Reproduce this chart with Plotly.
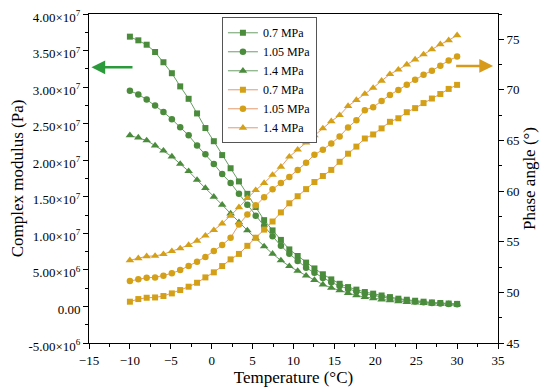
import plotly.graph_objects as go

temperature = [-10.0, -8.97, -7.95, -6.92, -5.90, -4.87, -3.85, -2.82, -1.79, -0.77,
               0.26, 1.28, 2.31, 3.33, 4.36, 5.38, 6.41, 7.44, 8.46, 9.49,
               10.51, 11.54, 12.56, 13.59, 14.62, 15.64, 16.67, 17.69, 18.72, 19.74,
               20.77, 21.79, 22.82, 23.85, 24.87, 25.90, 26.92, 27.95, 28.97, 30.0]

# complex modulus, in units of 1e6 Pa
modulus_07 = [36.9, 36.4, 35.8, 34.8, 33.4, 31.9, 30.1, 28.4, 26.4, 24.4,
              22.6, 20.7, 18.9, 17.1, 15.4, 13.6, 11.8, 10.4, 9.1, 7.8,
              6.9, 6.0, 5.2, 4.4, 3.7, 3.1, 2.65, 2.3, 1.97, 1.75,
              1.5, 1.28, 1.06, 0.92, 0.78, 0.65, 0.55, 0.47, 0.40, 0.35]
modulus_105 = [29.5, 29.0, 28.3, 27.5, 26.6, 25.6, 24.5, 23.4, 22.0, 20.8,
               19.5, 18.1, 16.9, 15.4, 13.9, 12.4, 11.0, 9.6, 8.3, 7.2,
               6.2, 5.3, 4.6, 3.9, 3.3, 2.8, 2.4, 2.05, 1.75, 1.5,
               1.3, 1.1, 0.95, 0.8, 0.68, 0.57, 0.48, 0.41, 0.35, 0.3]
modulus_14 = [23.4, 23.1, 22.7, 22.0, 21.3, 20.5, 19.5, 18.5, 17.3, 16.2,
              15.0, 13.9, 12.7, 11.5, 10.4, 9.3, 8.2, 7.2, 6.3, 5.5,
              4.85, 4.2, 3.6, 3.0, 2.55, 2.2, 1.83, 1.5, 1.28, 1.1,
              0.95, 0.82, 0.7, 0.6, 0.52, 0.45, 0.4, 0.35, 0.31, 0.28]

phase_07 = [49.08, 49.34, 49.47, 49.5, 49.64, 49.9, 50.23, 50.56, 50.95, 51.48,
            51.98, 52.6, 53.26, 53.8, 54.6, 55.4, 56.2, 57.0, 57.9, 58.8,
            59.5, 60.2, 60.9, 61.5, 62.1, 62.9, 63.7, 64.4, 65.2, 65.6,
            66.2, 66.85, 67.2, 67.8, 68.2, 68.7, 69.15, 69.6, 70.1, 70.5]
phase_105 = [51.12, 51.29, 51.45, 51.48, 51.65, 51.88, 52.2, 52.6, 53.03, 53.5,
             54.08, 54.67, 55.4, 56.7, 57.7, 58.6, 59.4, 60.2, 60.8, 61.4,
             62.1, 62.8, 63.6, 64.1, 64.7, 65.4, 66.3, 67.0, 68.0, 68.3,
             68.9, 69.5, 70.0, 70.5, 71.0, 71.5, 71.9, 72.4, 72.9, 73.3]
phase_14 = [53.17, 53.37, 53.57, 53.6, 53.77, 54.07, 54.34, 54.67, 55.1, 55.6,
            56.15, 56.8, 57.57, 58.4, 59.3, 60.1, 60.8, 61.6, 62.4, 63.4,
            64.1, 64.8, 65.5, 66.2, 66.9, 67.5, 68.4, 69.0, 69.6, 70.2,
            70.9, 71.55, 72.0, 72.5, 73.0, 73.5, 74.0, 74.5, 74.9, 75.4]

labels = ["0.7 MPa", "1.05 MPa", "1.4 MPa"]
symbols = ["square", "circle", "triangle-up"]
sizes = [6, 6.5, 7.5]

left_tickvals = [-5e6, 0, 5e6, 1e7, 1.5e7, 2e7, 2.5e7, 3e7, 3.5e7, 4e7]
left_ticktext = ["-5.00×10<sup>6</sup>", "0.00", "5.00×10<sup>6</sup>",
                 "1.00×10<sup>7</sup>", "1.50×10<sup>7</sup>", "2.00×10<sup>7</sup>",
                 "2.50×10<sup>7</sup>", "3.00×10<sup>7</sup>", "3.50×10<sup>7</sup>",
                 "4.00×10<sup>7</sup>"]

GREEN_M = "#4a8c3c"
GREEN_L = "#6a9e66"
ORANGE_M = "#d4a015"
ORANGE_L = "#e39a6c"
FONT = "Liberation Serif"

fig = go.Figure()
for lab, sym, sz, vals in zip(labels, symbols, sizes, [modulus_07, modulus_105, modulus_14]):
    fig.add_trace(go.Scatter(
        x=temperature, y=[v * 1e6 for v in vals], name=lab, mode="lines+markers",
        line=dict(color=GREEN_L, width=1),
        marker=dict(symbol=sym, size=sz, color=GREEN_M),
        yaxis="y"))
for lab, sym, sz, vals in zip(labels, symbols, sizes, [phase_07, phase_105, phase_14]):
    fig.add_trace(go.Scatter(
        x=temperature, y=vals, name=lab, mode="lines+markers",
        line=dict(color=ORANGE_L, width=1),
        marker=dict(symbol=sym, size=sz, color=ORANGE_M),
        yaxis="y2"))

fig.add_annotation(x=-14.7, y=3.27e7, ax=-9.5, ay=3.27e7, xref="x", yref="y",
                   axref="x", ayref="y", showarrow=True, arrowhead=2,
                   arrowsize=1.1, arrowwidth=2.5, arrowcolor="#2a9a3a", text="")
fig.add_annotation(x=34.4, y=72.37, ax=29.7, ay=72.37, xref="x", yref="y2",
                   axref="x", ayref="y2", showarrow=True, arrowhead=2,
                   arrowsize=1.1, arrowwidth=2.5, arrowcolor="#d89a1a", text="")

tickfont = dict(family=FONT, size=13, color="black")
axis_common = dict(showline=True, linecolor="black", linewidth=1, ticks="outside",
                   ticklen=5, tickcolor="black", showgrid=False, zeroline=False,
                   tickfont=tickfont, automargin=False, ticklabeloverflow="allow")

fig.update_layout(
    width=542, height=382,
    margin=dict(l=81, r=52, t=6, b=47),
    paper_bgcolor="white", plot_bgcolor="white",
    font=dict(family=FONT, color="black", size=13),
    xaxis=dict(range=[-15, 35], tickmode="linear", tick0=-15, dtick=5,
               mirror=True,
               minor=dict(ticks="outside", ticklen=3, dtick=2.5, tick0=-15, tickcolor="black"),
               title=dict(text="Temperature (°C)", font=dict(family=FONT, size=17), standoff=1),
               **axis_common),
    yaxis=dict(range=[-5e6, 4e7], tickmode="array", tickvals=left_tickvals,
               ticktext=left_ticktext, ticklabelshift=3,
               minor=dict(ticks="outside", ticklen=3, tickmode="linear", dtick=2.5e6, tick0=0, tickcolor="black"),
               title=dict(text="Complex modulus (Pa)", font=dict(family=FONT, size=17), standoff=3),
               **axis_common),
    yaxis2=dict(range=[45, 77.5], overlaying="y", side="right", tickmode="linear",
                tick0=45, dtick=5,
                minor=dict(ticks="outside", ticklen=3, dtick=2.5, tick0=45, tickcolor="black"),
                title=dict(text="Phase angle (°)", font=dict(family=FONT, size=17), standoff=4),
                **axis_common),
    legend=dict(x=0.325, y=0.99, xanchor="left", yanchor="top",
                bgcolor="white", bordercolor="#555555", borderwidth=1,
                font=dict(family=FONT, size=12), tracegroupgap=0,
                itemwidth=30),
    showlegend=True,
)

fig.write_html("out.html")
